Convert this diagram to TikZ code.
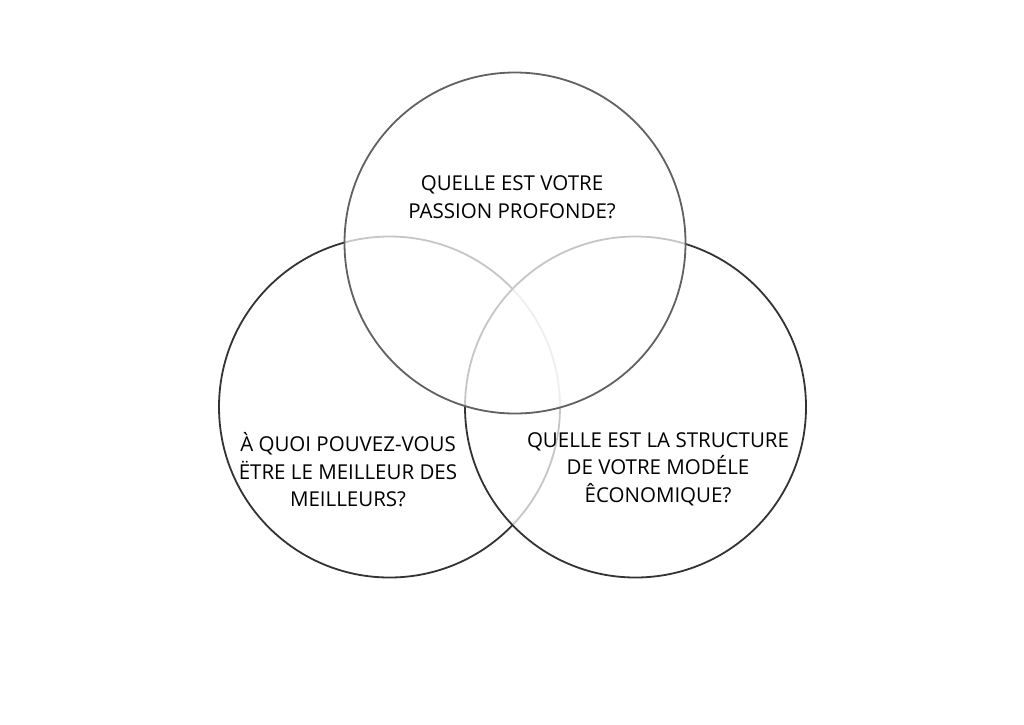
\documentclass[tikz,border=0pt]{standalone}
\usepackage{fontspec}
\setmainfont{Open Sans}
\begin{document}
\begin{tikzpicture}[x=1pt,y=-1pt,
  ring/.style={circle, minimum size=341pt, inner sep=0pt, line width=1.8pt},
  label/.style={align=center, font=\fontsize{20.5}{27.5}\selectfont, text=black, inner sep=0pt}]
\useasboundingbox[fill=white] (0,0) rectangle (1024,724);
\node[ring, draw=black!80] (L) at (389.5,407) {};
\node[ring, draw=black!80, fill=white, fill opacity=0.72] (R) at (635.5,407) {};
\node[ring, draw=black!62, fill=white, fill opacity=0.72] (T) at (515,243) {};
\node[label] (tt) at (512,197) {QUELLE EST VOTRE\\PASSION PROFONDE?};
\node[label] (lt) at (348,470) {À QUOI POUVEZ-VOUS\\ËTRE LE MEILLEUR DES\\MEILLEURS?};
\node[label] (rt) at (658,469) {QUELLE EST LA STRUCTURE\\DE VOTRE MODÉLE\\ÊCONOMIQUE?};
\end{tikzpicture}
\end{document}
